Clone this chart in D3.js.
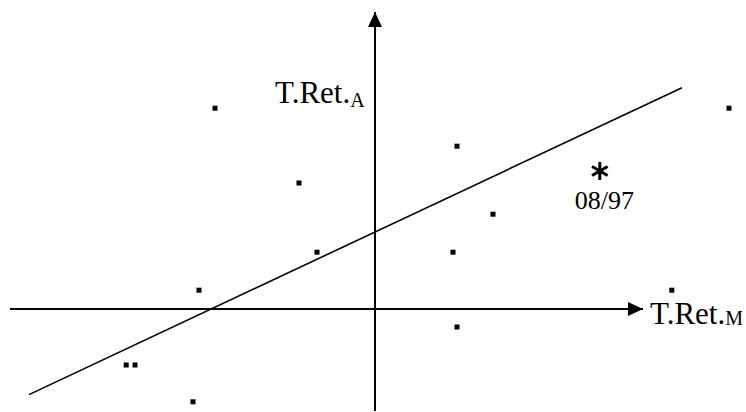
<!DOCTYPE html>
<html>
<head>
<meta charset="utf-8">
<script src="https://cdn.jsdelivr.net/npm/d3@7"></script>
<style>
html,body{margin:0;padding:0;background:#fff;}
svg{display:block;}
</style>
</head>
<body>
<svg id="chart" width="746" height="412"></svg>
<script>
// Data (returns, arbitrary units)
const marketReturns = [-4.0, -1.9, -1.45, -4.4, -6.22, -6.0, -4.55, 2.05, 2.95, 1.95, 2.05, 7.42, 8.85];
const assetReturns  = [5.02, 3.15, 1.42, 0.47, -1.4, -1.4, -2.32, 4.07, 2.37, 1.42, -0.45, 0.47, 5.02];
const highlightPoint = {x: 5.62, y: 3.45, label: "08/97"};
const regression = {intercept: 1.925, slope: 0.47, xStart: -8.65, xEnd: 7.675};
const xAxisExtent = [-9.125, 6.7];
const yAxisExtent = [-2.55, 7.425];
const axisLabelX = {main: "T.Ret.", sub: "M"};
const axisLabelY = {main: "T.Ret.", sub: "A"};

const FONT = "'Liberation Serif', 'Times New Roman', 'DejaVu Serif', serif";
const svg = d3.select("#chart");
const x = d3.scaleLinear().domain([-9.125, 6.7]).range([10, 643]);
const y = d3.scaleLinear().domain([-2.525, 7.425]).range([410, 12]);

// arrow marker
const defs = svg.append("defs");
defs.append("marker").attr("id","arrow")
  .attr("viewBox","0 0 15 14").attr("refX",15).attr("refY",7)
  .attr("markerWidth",15).attr("markerHeight",14).attr("markerUnits","userSpaceOnUse")
  .attr("orient","auto")
  .append("path").attr("d","M0,0 L15,7 L0,14 Z").attr("fill","#000");

// axes
svg.append("line")
  .attr("x1", x(xAxisExtent[0])).attr("y1", y(0))
  .attr("x2", x(xAxisExtent[1])).attr("y2", y(0))
  .attr("stroke","#000").attr("stroke-width",2).attr("marker-end","url(#arrow)");
svg.append("line")
  .attr("x1", x(0)).attr("y1", y(yAxisExtent[0]))
  .attr("x2", x(0)).attr("y2", y(yAxisExtent[1]))
  .attr("stroke","#000").attr("stroke-width",2).attr("marker-end","url(#arrow)");

// regression line
const lineGen = d3.line().x(d => x(d)).y(d => y(regression.intercept + regression.slope * d));
svg.append("path")
  .attr("d", lineGen([regression.xStart, regression.xEnd]))
  .attr("fill","none").attr("stroke","#000").attr("stroke-width",1.6);

// points
const pts = marketReturns.map((m,i) => ({x:m, y:assetReturns[i]}));
svg.selectAll("rect.pt").data(pts).enter().append("rect")
  .attr("class","pt")
  .attr("x", d => x(d.x) - 2.5).attr("y", d => y(d.y) - 2.5)
  .attr("width",5).attr("height",5).attr("fill","#000");

// highlighted point
svg.append("path")
  .attr("d", d3.symbol(d3.symbolAsterisk, 230)())
  .attr("transform", `translate(${x(highlightPoint.x)},${y(highlightPoint.y)})`)
  .attr("fill","none").attr("stroke","#000").attr("stroke-width",3);
svg.append("text")
  .attr("font-family", FONT)
  .attr("x", x(highlightPoint.x) - 25).attr("y", y(highlightPoint.y) + 38)
  .attr("font-size", 26).text(highlightPoint.label);

// axis labels
const ly = svg.append("text").attr("font-family", FONT).attr("x", 275).attr("y", 103).attr("font-size", 31);
ly.append("tspan").text(axisLabelY.main);
ly.append("tspan").attr("font-size",20).attr("dy",4).text(axisLabelY.sub);

const lx = svg.append("text").attr("font-family", FONT).attr("x", 650).attr("y", 324).attr("font-size", 31);
lx.append("tspan").text(axisLabelX.main);
lx.append("tspan").attr("font-size",20).attr("dy",1).text(axisLabelX.sub);
</script>
</body>
</html>
